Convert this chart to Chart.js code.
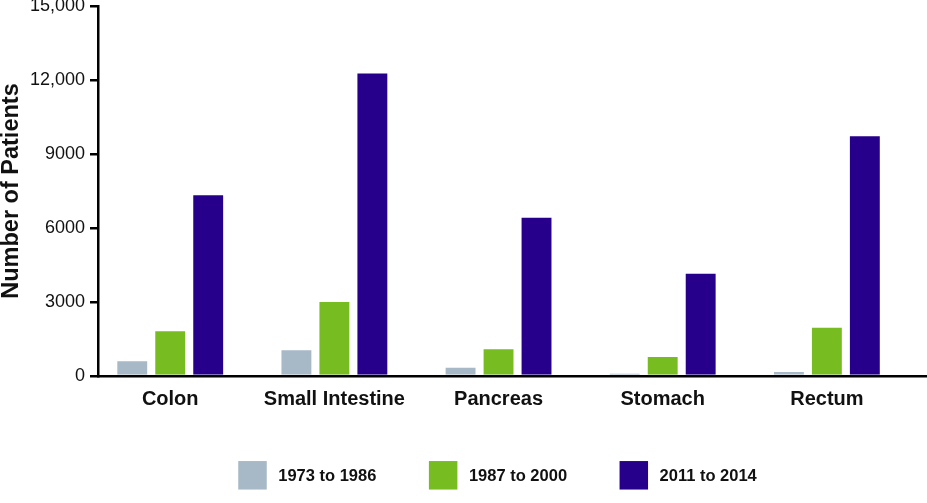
<!DOCTYPE html>
<html>
<head>
<meta charset="utf-8">
<script src="https://cdn.jsdelivr.net/npm/chart.js@4"></script>
<style>
  html, body { margin: 0; padding: 0; background: #fff; }
  #wrap { width: 927px; height: 503px; }
</style>
</head>
<body>
<div id="wrap"><canvas id="chart"></canvas></div>
<script>
// data
const categories = ['Colon', 'Small Intestine', 'Pancreas', 'Stomach', 'Rectum'];
const seriesLabels = ['1973 to 1986', '1987 to 2000', '2011 to 2014'];
const period1973 = [640, 1080, 380, 135, 200];
const period1987 = [1850, 3040, 1120, 810, 2000];
const period2011 = [7370, 12300, 6460, 4190, 9760];
const yTicks = [0, 3000, 6000, 9000, 12000, 15000];

const colors = ['#a7b9c7', '#77bc21', '#26008a'];
const FONT = '"Liberation Sans", Arial, Helvetica, sans-serif';

// index -> {x, y} so the bars sit on a linear index axis
const toPoints = arr => arr.map((v, i) => ({ x: i, y: v }));

// legend drawn under the chart, boxes + bold labels
const bottomLegend = {
  id: 'bottomLegend',
  afterDraw(chart) {
    const ctx = chart.ctx;
    const boxW = 28.5, boxH = 28.5, gap = 11.5, spacing = 52.5;
    ctx.save();
    ctx.font = 'bold 16.5px ' + FONT;
    const items = chart.data.datasets.map(ds => ({
      text: ds.label,
      color: ds.backgroundColor,
      tw: ctx.measureText(ds.label).width
    }));
    const total = items.reduce((s, it) => s + boxW + gap + it.tw, 0) + spacing * (items.length - 1);
    let x = chart.width * 0.5367 - total / 2;
    const cy = chart.height - 27.7;
    items.forEach(it => {
      ctx.fillStyle = it.color;
      ctx.fillRect(x, cy - boxH / 2, boxW, boxH);
      ctx.fillStyle = '#111';
      ctx.textBaseline = 'middle';
      ctx.textAlign = 'left';
      ctx.fillText(it.text, x + boxW + gap, cy + 1);
      x += boxW + gap + it.tw + spacing;
    });
    ctx.restore();
  }
};

const chart = new Chart(document.getElementById('chart'), {
  type: 'bar',
  data: {
    datasets: [period1973, period1987, period2011].map((arr, i) => ({
      label: seriesLabels[i],
      data: toPoints(arr),
      backgroundColor: colors[i],
      borderColor: 'rgba(255, 255, 255, 0.35)',
      borderWidth: 1,
      barPercentage: 0.84,
      categoryPercentage: 0.694
    }))
  },
  options: {
    responsive: true,
    maintainAspectRatio: false,
    animation: false,
    layout: { padding: { top: 6, right: 0, bottom: 89, left: 0 } },
    plugins: {
      legend: { display: false },
      tooltip: { enabled: false }
    },
    scales: {
      x: {
        type: 'linear',
        min: -0.44,
        max: 4.61,
        offset: false,
        grid: { display: false, offset: false },
        border: { display: true, color: '#000', width: 2.5 },
        afterBuildTicks: s => { s.ticks = categories.map((_, i) => ({ value: i })); },
        ticks: {
          autoSkip: false,
          maxRotation: 0,
          padding: 3,
          color: '#111',
          font: { family: FONT, size: 20, weight: 'bold' },
          callback: v => categories[v]
        }
      },
      y: {
        min: 0,
        max: 15000,
        afterBuildTicks: s => { s.ticks = yTicks.map(v => ({ value: v })); },
        afterFit: s => { s.width = 98; s.paddingTop = 0; s.paddingBottom = 0; },
        grid: { drawOnChartArea: false, drawTicks: true, tickLength: 8, color: '#000', lineWidth: 2.5 },
        border: { display: true, color: '#000', width: 2.5 },
        ticks: {
          padding: 5,
          color: '#111',
          font: { family: FONT, size: 18 },
          callback: v => v >= 10000 ? v.toLocaleString('en-US') : String(v)
        },
        title: {
          display: true,
          text: 'Number of Patients',
          color: '#111',
          padding: 0,
          font: { family: FONT, size: 23.5, weight: 'bold', lineHeight: 1 }
        }
      }
    }
  },
  plugins: [bottomLegend]
});
</script>
</body>
</html>
